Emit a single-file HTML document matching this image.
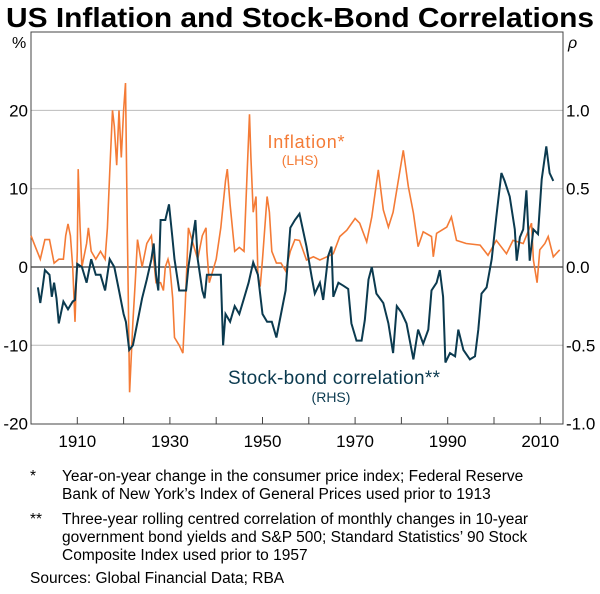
<!DOCTYPE html>
<html><head><meta charset="utf-8"><style>
body{margin:0;background:#fff;font-family:"Liberation Sans",Arial,sans-serif}
svg text{font-family:"Liberation Sans",Arial,sans-serif}
</style></head><body>
<svg width="600" height="589" viewBox="0 0 600 589">
<text x="300" y="27" text-anchor="middle" font-size="28" font-weight="bold" fill="#000" textLength="588" lengthAdjust="spacingAndGlyphs">US Inflation and Stock-Bond Correlations</text>
<g id="grid"></g>
<rect x="31" y="32" width="532" height="392" fill="none" stroke="#444" stroke-width="1"/>
<g id="axes"></g>
<path id="infl" fill="none" stroke="#f47b36" stroke-width="1.6"/>
<path id="corr" fill="none" stroke="#0b3a4f" stroke-width="2"/>
<text x="12" y="48" font-size="16">%</text>
<text x="568" y="48" font-size="16" font-style="italic">ρ</text>
<text x="306" y="148" text-anchor="middle" font-size="18" fill="#f47b36" textLength="77">Inflation*</text>
<text x="300" y="165" text-anchor="middle" font-size="14" fill="#f47b36">(LHS)</text>
<text x="334" y="384" text-anchor="middle" font-size="19" fill="#0b3a4f" textLength="212">Stock-bond correlation**</text>
<text x="331" y="402" text-anchor="middle" font-size="14" fill="#0b3a4f">(RHS)</text>
<g font-size="15.5" fill="#000">
<text x="30" y="481">*</text>
<text x="62" y="481">Year-on-year change in the consumer price index; Federal Reserve</text>
<text x="62" y="499">Bank of New York’s Index of General Prices used prior to 1913</text>
<text x="30" y="524">**</text>
<text x="62" y="524">Three-year rolling centred correlation of monthly changes in 10-year</text>
<text x="62" y="542">government bond yields and S&amp;P 500; Standard Statistics’ 90 Stock</text>
<text x="62" y="560">Composite Index used prior to 1957</text>
<text x="30" y="583">Sources:   Global Financial Data; RBA</text>
</g>
</svg>
<script>
const leftTicks=[20,10,0,-10,-20];
const rightTickLabels=["1.0","0.5","0.0","-0.5","-1.0"];
const yearTicks=[1910,1930,1950,1970,1990,2010];
const inflYears=[1900,1901,1902,1903,1904,1905,1906,1907,1907.5,1908,1908.5,1909,1909.5,1910,1910.2,1910.6,1911,1912,1912.4,1913,1914,1915,1916,1916.5,1917,1917.6,1918,1918.5,1919,1919.5,1920,1920.4,1920.8,1921.3,1922,1922.5,1923,1924,1925,1926,1926.5,1927,1928,1928.6,1929,1929.6,1930,1930.6,1931,1932,1932.8,1933.3,1934,1935,1936,1937,1937.8,1938,1938.5,1939,1940,1941,1942,1942.4,1943,1944,1945,1946,1946.6,1947.2,1947.5,1948,1948.6,1949,1949.5,1950,1951,1951.5,1952,1953,1954,1955,1956,1957,1958,1959.5,1961,1962.4,1963.9,1965.3,1966.7,1968.2,1970,1971,1972.5,1973.6,1975,1976.1,1977.2,1978.2,1980.4,1981.5,1982.6,1983.6,1984.7,1986.5,1986.9,1987.6,1989.8,1990.8,1991.9,1994,1997,1998.7,2000.5,2002.7,2004.1,2006.3,2008.1,2008.5,2009.3,2009.9,2011,2011.7,2012.8,2014.2];
const inflValues=[4,2.5,1,3.5,3.5,0.5,1,1,4,5.5,4,0,-7,2,12.5,5,0,3,5,2,1,2,1,5,12,20,18,13,20,14,20,23.5,5,-16,-7,-2,3.5,0,3,4,1,-2,-2,-3,0,1,0,-4,-9,-10,-11,-5,5,3,1,4,5,2,-2,-1,1,5,11,12.5,8,2,2.5,2,11,19.5,14,7,9,-1,-2.5,1,9,7,2,0.5,0.5,-0.5,2,3.5,3.4,0.9,1.3,0.9,1.3,1.7,3.9,4.7,6.2,5.6,3.2,6.4,12.4,7.3,5.1,7,14.9,10.3,6.9,2.6,4.5,3.9,1.3,4.3,5.1,6.4,3.4,3,2.8,1.5,3.4,1.7,3.4,3,5.6,0.9,-2,2.2,3,3.9,1.3,2.2];
const corrYears=[1901.5,1902,1902.5,1903,1904,1904.5,1905,1905.5,1906,1907,1908,1909,1909.5,1910,1911,1912,1913,1914,1915,1916,1917,1918,1919,1920,1920.5,1921.2,1922,1923,1924,1925,1926,1926.5,1927,1927.5,1928,1929,1929.8,1930.5,1931,1932,1933,1933.5,1934,1935,1935.5,1936,1937,1937.5,1938,1939,1940,1941,1941.5,1942,1943,1944,1945,1946,1947,1948,1949,1950,1951,1952,1953,1954,1955,1956,1957,1958,1959.5,1960.6,1961.3,1962.4,1963.1,1964.2,1964.9,1965.3,1966.4,1967.5,1968.5,1969.2,1970.3,1971.4,1972.1,1972.9,1973.6,1974.6,1976.1,1977.2,1978.2,1979,1980,1981.1,1982.6,1983.6,1984.7,1985.8,1986.5,1987.6,1988.3,1989,1989.5,1990.5,1991.6,1992.3,1993.4,1994.8,1995.9,1996.6,1997.3,1998.4,1999.5,2000.5,2001.6,2002.3,2003.4,2004.5,2004.9,2005.6,2006.3,2007,2007.7,2008.5,2009.5,2010.3,2011.3,2012,2012.8];
const corrValues=[-0.13,-0.23,-0.13,-0.02,-0.05,-0.19,-0.1,-0.2,-0.36,-0.22,-0.27,-0.22,-0.21,0.02,0,-0.1,0.05,-0.05,-0.05,-0.15,0.05,0,-0.15,-0.3,-0.35,-0.53,-0.5,-0.35,-0.2,-0.08,0.05,0.15,-0.05,-0.15,0.3,0.3,0.4,0.2,0.05,-0.15,-0.15,-0.15,0,0.2,0.3,0.05,-0.15,-0.2,-0.05,-0.05,-0.05,-0.05,-0.5,-0.3,-0.35,-0.25,-0.3,-0.2,-0.1,0.03,-0.05,-0.3,-0.35,-0.35,-0.45,-0.3,-0.15,0.25,0.3,0.34,0.13,-0.06,-0.17,-0.1,-0.21,0.07,0.13,-0.19,-0.1,-0.12,-0.14,-0.36,-0.47,-0.47,-0.34,-0.08,0,-0.17,-0.23,-0.36,-0.55,-0.25,-0.29,-0.36,-0.59,-0.4,-0.49,-0.4,-0.15,-0.1,-0.02,-0.19,-0.61,-0.55,-0.57,-0.4,-0.53,-0.59,-0.57,-0.4,-0.17,-0.13,0.05,0.32,0.6,0.55,0.45,0.24,0.04,0.19,0.24,0.49,0.04,0.24,0.21,0.56,0.77,0.6,0.55];
const NS='http://www.w3.org/2000/svg';
const xOf=y=>31+(y-1900)*4.63;
const yL=v=>267-v*7.83;
const yR=r=>267-r*156.6;
const grid=document.getElementById('grid'),axes=document.getElementById('axes');
leftTicks.forEach((t,i)=>{
 const y=yL(t);
 if(t!==-20){const l=document.createElementNS(NS,'line');
 l.setAttribute('x1',31);l.setAttribute('x2',563);l.setAttribute('y1',y);l.setAttribute('y2',y);
 l.setAttribute('stroke',t===0?'#000':'#bbb');l.setAttribute('stroke-width',1);
 
 
 grid.appendChild(l);}
 const a=document.createElementNS(NS,'text');a.setAttribute('x',28);a.setAttribute('y',y+6);a.setAttribute('text-anchor','end');a.setAttribute('font-size','17');a.textContent=t;
 
 
 axes.appendChild(a);
 const b=document.createElementNS(NS,'text');b.setAttribute('x',566);b.setAttribute('y',y+6);b.setAttribute('font-size','17');b.textContent=rightTickLabels[i];
 
 
 axes.appendChild(b);
});
for(let yr=1910;yr<=2010;yr+=10){const l=document.createElementNS(NS,'line');const x=xOf(yr);
 l.setAttribute('x1',x);l.setAttribute('x2',x);l.setAttribute('y1',417);l.setAttribute('y2',424);l.setAttribute('stroke','#444');
 
 
 axes.appendChild(l);}
yearTicks.forEach(yr=>{const t=document.createElementNS(NS,'text');t.setAttribute('x',xOf(yr));t.setAttribute('y',447);t.setAttribute('text-anchor','middle');t.setAttribute('font-size','17');t.textContent=yr;
 
 
 axes.appendChild(t);});
document.getElementById('infl').setAttribute('d',inflYears.map((y,i)=>(i?'L':'M')+xOf(y).toFixed(1)+','+yL(inflValues[i]).toFixed(1)).join(''));
document.getElementById('corr').setAttribute('d',corrYears.map((y,i)=>(i?'L':'M')+xOf(y).toFixed(1)+','+yR(corrValues[i]).toFixed(1)).join(''));
</script>
</body></html>
